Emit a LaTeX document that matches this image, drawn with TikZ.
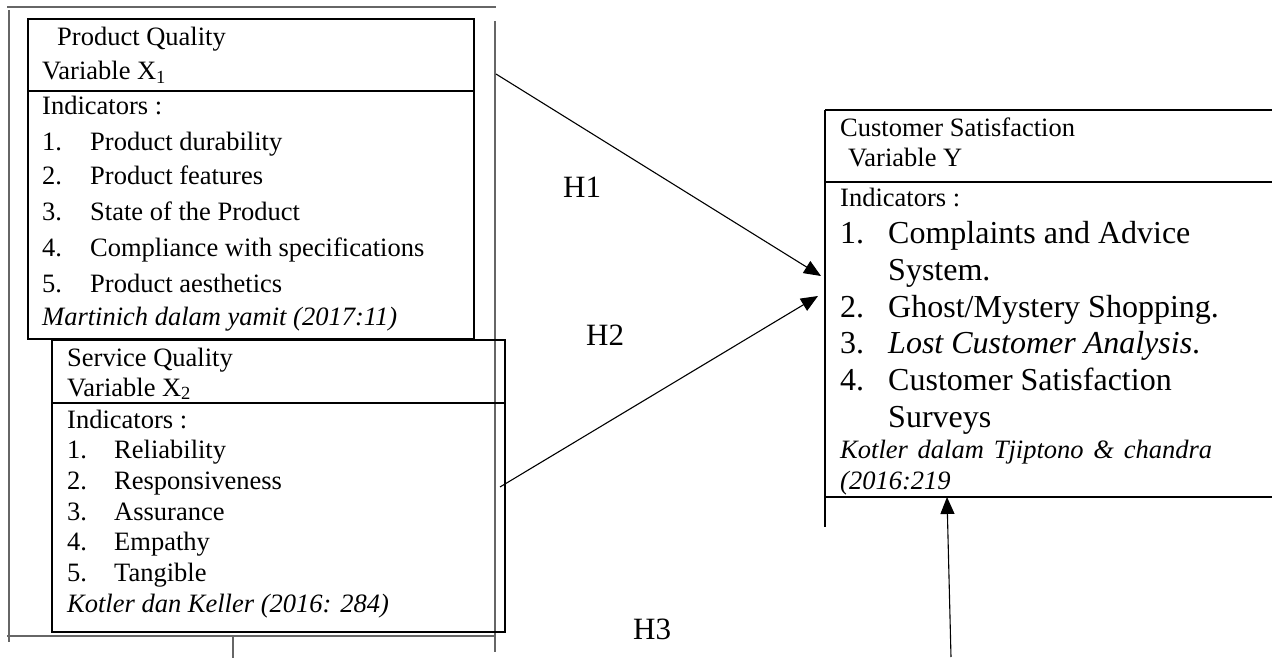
\documentclass[tikz,border=0pt]{standalone}
\usepackage{fontspec}
\setmainfont{Liberation Serif}
\usetikzlibrary{arrows.meta}

\tikzset{
  frame/.style={line width=2pt, draw=black},
  guide/.style={line width=1.4pt, draw=black!60},
  link/.style={line width=1.1pt, draw=black, -{Triangle[length=17pt,width=14pt]}},
  txt/.style={anchor=base west, inner sep=0pt, font=\fontsize{26.5}{30}\selectfont},
  bigtxt/.style={anchor=base west, inner sep=0pt, font=\fontsize{32}{36}\selectfont},
  hyp/.style={anchor=base west, inner sep=0pt, font=\fontsize{31}{36}\selectfont},
}

\begin{document}
\begin{tikzpicture}[x=1pt, y=-1pt]
  \useasboundingbox (0,0) rectangle (1272,658);

  % thin grey guide lines around the left column
  \draw[guide] (7,7) -- (496,7);
  \draw[guide] (9,10) -- (9,642);
  \draw[guide] (495,21) -- (495,652);
  \draw[guide] (7,636) -- (495,636);
  \draw[guide] (233,636) -- (233,658);

  % Product Quality box
  \draw[frame] (28,19) rectangle (474,339);
  \draw[frame] (28,91) -- (474,91);
  \node[txt] (pqT) at (57,46) {Product Quality};
  \node[txt] (pqV) at (42,80) {Variable X\textsubscript{1}};
  \node[txt] (pqI) at (42,115) {Indicators :};
  \foreach \n/\b/\t in {1/150/Product durability, 2/185/Product features,
      3/220/State of the Product, 4/256/Compliance with specifications,
      5/292/Product aesthetics}{
    \node[txt] (pqn\n) at (42,\b) {\n.};
    \node[txt] (pqi\n) at (90,\b) {\t};
  }
  \node[txt] (pqS) at (42,325) {\itshape Martinich dalam yamit (2017:11)};

  % Service Quality box
  \draw[frame] (52,340) rectangle (505,632);
  \draw[frame] (52,403) -- (505,403);
  \node[txt] (sqT) at (67,366) {Service Quality};
  \node[txt] (sqV) at (67,396) {Variable X\textsubscript{2}};
  \node[txt] (sqI) at (67,428) {Indicators :};
  \foreach \n/\b/\t in {1/458/Reliability, 2/489/Responsiveness,
      3/520/Assurance, 4/550/Empathy, 5/581/Tangible}{
    \node[txt] (sqn\n) at (67,\b) {\n.};
    \node[txt] (sqi\n) at (114,\b) {\t};
  }
  \node[txt] (sqS) at (67,612) {\itshape Kotler dan Keller (2016: 284)};

  % Customer Satisfaction box (open on the right)
  \draw[frame] (825,110) -- (825,527);
  \draw[frame] (825,110) -- (1272,110);
  \draw[frame] (825,182) -- (1272,182);
  \draw[frame] (825,497) -- (1272,497);
  \node[txt] (csT) at (840,137) {Customer Satisfaction};
  \node[txt] (csV) at (848,167) {Variable Y};
  \node[txt] (csI) at (840,207) {Indicators :};
  \node[bigtxt] (csn1) at (840,243) {1.};
  \node[bigtxt] (csi1) at (888,243) {Complaints and Advice};
  \node[bigtxt] (csi1b) at (888,280) {System.};
  \node[bigtxt] (csn2) at (840,317) {2.};
  \node[bigtxt] (csi2) at (888,317) {Ghost/Mystery Shopping.};
  \node[bigtxt] (csn3) at (840,353) {3.};
  \node[bigtxt] (csi3) at (888,353) {\textit{Lost Customer Analysis}.};
  \node[bigtxt] (csn4) at (840,390) {4.};
  \node[bigtxt] (csi4) at (888,390) {Customer Satisfaction};
  \node[bigtxt] (csi4b) at (888,427) {Surveys};
  \node[txt] (csS) at (840,458) {\makebox[372pt][s]{\itshape Kotler dalam Tjiptono \& chandra}};
  \node[txt] (csS2) at (840,489) {\itshape (2016:219};

  % hypothesis arrows
  \coordinate (h1s) at (496,74);
  \coordinate (h1e) at (821,276);
  \coordinate (h2s) at (500,487);
  \coordinate (h2e) at (818,296);
  \coordinate (h3s) at (951,657);
  \coordinate (h3e) at (947,497);
  \draw[link] (h1s) -- (h1e);
  \draw[link] (h2s) -- (h2e);
  \draw[link] (h3s) -- (h3e);

  \node[hyp] (H1) at (563,197) {H1};
  \node[hyp] (H2) at (586,345) {H2};
  \node[hyp] (H3) at (633,639) {H3};
\end{tikzpicture}
\end{document}
